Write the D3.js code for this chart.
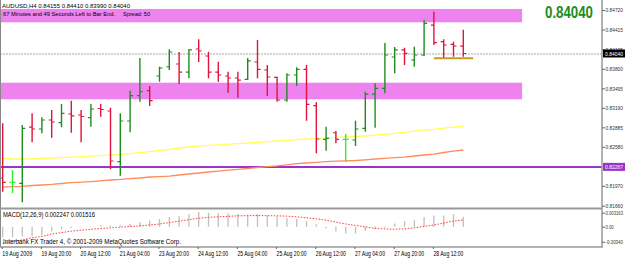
<!DOCTYPE html>
<html><head><meta charset="utf-8">
<script src="https://cdn.jsdelivr.net/npm/d3@7"></script>
<style>html,body{margin:0;padding:0;background:#fff;overflow:hidden}</style>
</head><body><svg id="c" width="625" height="258"></svg>
<script>
// ---- data (AUDUSD H4) ----
const opens  = [0.82093,0.82026,0.82010,0.82890,0.82859,0.83000,0.82958,0.83094,0.83078,0.83036,0.83180,0.83141,0.82348,0.82984,0.83380,0.83458,
                0.83688,0.83833,0.83876,0.83750,0.84110,0.84001,0.83750,0.83688,0.83657,0.83636,0.83907,0.83782,0.83668,0.83313,0.83704,0.83793,
                0.83224,0.82698,0.82801,0.82698,0.82687,0.82870,0.83406,0.83496,0.83985,0.84095,0.83938,0.84016,0.84485,0.84224,0.84184,0.84155];
const highs  = [0.82948,0.82218,0.82922,0.83105,0.83042,0.83156,0.83250,0.83302,0.83156,0.83250,0.83250,0.83192,0.83105,0.83458,0.83969,0.83532,
                0.83833,0.84105,0.84063,0.84105,0.84262,0.84068,0.83912,0.83755,0.83755,0.83969,0.84251,0.83860,0.83677,0.83730,0.83824,0.83860,
                0.83277,0.82895,0.82828,0.82781,0.82989,0.83442,0.83574,0.84204,0.84141,0.84130,0.84146,0.84564,0.84693,0.84262,0.84224,0.84410];
const lows   = [0.81879,0.81854,0.81713,0.82651,0.82792,0.82723,0.82886,0.82801,0.82651,0.82895,0.83052,0.82229,0.82129,0.82808,0.83286,0.83219,
                0.83599,0.83782,0.83563,0.83652,0.83907,0.83652,0.83599,0.83427,0.83349,0.83625,0.83652,0.83375,0.83286,0.83286,0.83532,0.82989,
                0.82479,0.82520,0.82636,0.82348,0.82593,0.82817,0.82880,0.83417,0.83730,0.83860,0.83833,0.84001,0.84173,0.83965,0.83990,0.83990];
const closes = [0.82026,0.82026,0.82870,0.82859,0.83000,0.82969,0.83105,0.83063,0.83055,0.83172,0.83164,0.82359,0.82984,0.83380,0.83442,0.83302,
                0.83813,0.84063,0.83750,0.84095,0.84079,0.83750,0.83704,0.83657,0.83625,0.83923,0.83793,0.83672,0.83313,0.83704,0.83793,0.83245,
                0.82703,0.82714,0.82698,0.82698,0.82859,0.83406,0.83496,0.84016,0.84095,0.84043,0.84016,0.84512,0.84209,0.84173,0.84157,0.84040];
const maYellow = [0.82398,0.82390,0.82390,0.82393,0.82398,0.82406,0.82412,0.82418,0.82426,0.82434,0.82442,0.82453,0.82464,0.82475,0.82489,0.82506,
                  0.82523,0.82542,0.82562,0.82578,0.82592,0.82604,0.82611,0.82622,0.82631,0.82640,0.82650,0.82661,0.82672,0.82683,0.82692,0.82703,
                  0.82709,0.82722,0.82729,0.82737,0.82744,0.82750,0.82762,0.82775,0.82792,0.82806,0.82826,0.82844,0.82855,0.82872,0.82889,0.82906];
const maOrange = [0.81949,0.81959,0.81963,0.81976,0.81984,0.81993,0.82007,0.82020,0.82030,0.82038,0.82049,0.82062,0.82071,0.82084,0.82093,0.82109,
                  0.82116,0.82124,0.82140,0.82156,0.82171,0.82187,0.82202,0.82215,0.82229,0.82242,0.82257,0.82270,0.82282,0.82299,0.82317,0.82328,
                  0.82337,0.82348,0.82356,0.82362,0.82367,0.82378,0.82390,0.82401,0.82412,0.82421,0.82437,0.82453,0.82468,0.82492,0.82512,0.82531];
const macdMain = [-0.00238,-0.00238,-0.00217,-0.00217,-0.00195,-0.00108,-0.00065,-0.00032,-0.00011,0.00011,0.00032,0.00028,0.00032,0.00065,0.00108,0.00141,
                  0.00173,0.00217,0.00238,0.00282,0.00336,0.00314,0.00303,0.00303,0.00288,0.00266,0.00288,0.00253,0.00232,0.00195,0.00180,0.00130,
                  0.00054,-0.00037,-0.00108,-0.00152,-0.00152,-0.00093,-0.00058,-0.00022,0.00071,0.00123,0.00158,0.00217,0.00253,0.00253,0.00288,0.002247];
const macdSignal = [-0.00383,-0.00340,-0.00297,-0.00253,-0.00221,-0.00167,-0.00134,-0.00102,-0.00080,-0.00058,-0.00043,-0.00026,-0.00011,0.00006,0.00017,0.00039,
                    0.00061,0.00093,0.00126,0.00158,0.00191,0.00212,0.00223,0.00234,0.00245,0.00249,0.00251,0.00249,0.00245,0.00238,0.00223,0.00201,
                    0.00180,0.00147,0.00104,0.00061,0.00028,-0.00004,-0.00037,-0.00052,-0.00058,-0.00048,-0.00026,0.00006,0.00039,0.00082,0.00126,0.001516];
const timeLabels = ["19 Aug 2009","19 Aug 20:00","20 Aug 12:00","21 Aug 04:00","23 Aug 20:00","24 Aug 12:00",
                    "25 Aug 04:00","25 Aug 20:00","26 Aug 12:00","27 Aug 04:00","27 Aug 20:00","28 Aug 12:00"];
const timeLabelBars = [0,4,8,12,16,20,24,28,32,36,40,44];
const priceTicks = [0.84720,0.84415,0.84105,0.83800,0.83495,0.83190,0.82885,0.82580,0.81970,0.81660];
const macdTicks = [0.003163,0.00,-0.00340];
const macdTickLabels = ["0.003163","0.00","-0.00340"];
const zoneUpper = [0.84528,0.84736];
const zoneLower = [0.83324,0.83583];
const zoneEndBar = 53;
const levelLine = 0.82267;
const goldLevel = 0.83965, goldFrom = 44, goldTo = 48;
const lastPrice = 0.84040;
const header = "AUDUSD,H4 0.84155 0.84410 0.83990 0.84040";
const timerText = "67 Minutes and 49 Seconds Left to Bar End.";
const spreadText = "Spread: 50";
const macdText = "MACD(12,26,9) 0.002247 0.001516";
const copyText = "Interbank FX Trader 4, \u00a9 2001-2009 MetaQuotes Software Corp.";

// ---- drawing ----
const svg = d3.select("#c");
const FONT = "Liberation Sans, Arial, sans-serif";
const axisX = 602, mainBottom = 207.5, macdTop = 209.5, macdBottom = 247;
const x = d3.scaleLinear().domain([0,47]).range([2.7,463.3]);
const y = d3.scaleLinear().domain([0.81660,0.84720]).range([205.7,10]);
const ym = d3.scaleLinear().domain([-0.0034,0.003163]).range([241.7,212.7]);
const idx = d3.range(opens.length);

svg.append("rect").attr("width",625).attr("height",258).attr("fill","#fff");
const defs = svg.append("defs");
defs.append("clipPath").attr("id","cm").append("rect").attr("x",1).attr("y",0).attr("width",axisX-1).attr("height",mainBottom);
defs.append("clipPath").attr("id","cd").append("rect").attr("x",1).attr("y",macdTop).attr("width",axisX-1).attr("height",macdBottom-macdTop);

const main = svg.append("g").attr("clip-path","url(#cm)");
[zoneUpper, zoneLower].forEach(z=>{
  main.append("rect").attr("x",0).attr("width",x(zoneEndBar)).attr("y",y(z[1])).attr("height",y(z[0])-y(z[1])).attr("fill","#ee82ee");
});
main.append("line").attr("x1",0).attr("x2",axisX).attr("y1",y(lastPrice)+0.5).attr("y2",y(lastPrice)+0.5)
  .attr("stroke","#a8a8a8").attr("stroke-width",1).attr("stroke-dasharray","2,1");
main.append("line").attr("x1",0).attr("x2",axisX).attr("y1",y(levelLine)).attr("y2",y(levelLine))
  .attr("stroke","#9933cc").attr("stroke-width",2);
const line = d3.line().x((d,i)=>x(i)).y(d=>y(d));
main.append("path").attr("d",line(maYellow)).attr("fill","none").attr("stroke","#ffff55").attr("stroke-width",1.3);
main.append("path").attr("d",line(maOrange)).attr("fill","none").attr("stroke","#ff8c5a").attr("stroke-width",1.3);
const col = i => closes[i]>opens[i] ? "#1e8c1e" : (closes[i]<opens[i] ? "#e0143c" : "#33ee33");
const bars = main.selectAll("g.bar").data(idx).enter().append("g");
bars.append("line").attr("x1",i=>x(i)).attr("x2",i=>x(i)).attr("y1",i=>y(highs[i])).attr("y2",i=>y(lows[i]))
  .attr("stroke",col).attr("stroke-width",1.4);
bars.append("line").attr("x1",i=>x(i)-3).attr("x2",i=>x(i)).attr("y1",i=>y(opens[i])).attr("y2",i=>y(opens[i]))
  .attr("stroke",col).attr("stroke-width",1.2);
bars.append("line").attr("x1",i=>x(i)).attr("x2",i=>x(i)+3).attr("y1",i=>y(closes[i])).attr("y2",i=>y(closes[i]))
  .attr("stroke",col).attr("stroke-width",1.2);
main.append("line").attr("x1",x(goldFrom)).attr("x2",x(goldTo)).attr("y1",y(goldLevel)).attr("y2",y(goldLevel))
  .attr("stroke","#cc9a22").attr("stroke-width",2);
main.append("text").attr("x",2).attr("y",7.5).attr("font-family",FONT).attr("font-size",6).attr("fill","#000")
  .attr("textLength",128).attr("lengthAdjust","spacingAndGlyphs").text(header);
main.append("text").attr("x",3).attr("y",16.2).attr("font-family",FONT).attr("font-size",6).attr("fill","#000")
  .attr("textLength",112).attr("lengthAdjust","spacingAndGlyphs").text(timerText);
main.append("text").attr("x",123).attr("y",16.2).attr("font-family",FONT).attr("font-size",6).attr("fill","#000")
  .attr("textLength",27).attr("lengthAdjust","spacingAndGlyphs").text(spreadText);
svg.append("text").attr("x",545).attr("y",17.5).attr("font-family",FONT).attr("font-weight","bold").attr("font-size",17)
  .attr("fill","#1e8c1e").attr("textLength",48).attr("lengthAdjust","spacingAndGlyphs").text(d3.format(".5f")(lastPrice));

const md = svg.append("g").attr("clip-path","url(#cd)");
md.selectAll("line.h").data(idx).enter().append("line")
  .attr("x1",i=>x(i)).attr("x2",i=>x(i)).attr("y1",ym(0)).attr("y2",i=>ym(macdMain[i]))
  .attr("stroke","#c0c0c0").attr("stroke-width",1.3);
md.append("path").attr("d",d3.line().x((d,i)=>x(i)).y(d=>ym(d))(macdSignal)).attr("fill","none")
  .attr("stroke","#ff3b3b").attr("stroke-width",1).attr("stroke-dasharray","1.5,1.5");
svg.append("text").attr("x",3).attr("y",217).attr("font-family",FONT).attr("font-size",6.3).attr("fill","#000")
  .attr("textLength",92).attr("lengthAdjust","spacingAndGlyphs").text(macdText);
svg.append("text").attr("x",3).attr("y",244).attr("font-family",FONT).attr("font-size",6.3).attr("fill","#000")
  .attr("textLength",178).attr("lengthAdjust","spacingAndGlyphs").text(copyText);

svg.append("line").attr("x1",0.5).attr("x2",0.5).attr("y1",0).attr("y2",macdBottom).attr("stroke","#888").attr("stroke-width",1);
svg.append("line").attr("x1",0).attr("x2",axisX).attr("y1",208.5).attr("y2",208.5).attr("stroke","#999").attr("stroke-width",2);
svg.append("line").attr("x1",0).attr("x2",axisX+1).attr("y1",macdBottom).attr("y2",macdBottom).attr("stroke","#999").attr("stroke-width",1.5);
svg.append("line").attr("x1",axisX).attr("x2",axisX).attr("y1",0).attr("y2",macdBottom).attr("stroke","#999").attr("stroke-width",1.5);

const pa = svg.append("g").attr("transform",`translate(${axisX},0)`)
  .call(d3.axisRight(y).tickValues(priceTicks).tickSize(3).tickPadding(0.5).tickFormat(d3.format(".5f")));
pa.select(".domain").remove();
pa.selectAll("line").attr("stroke","#666");
pa.selectAll("text").attr("font-family",FONT).attr("font-size",6).attr("fill","#333")
  .attr("textLength",17.5).attr("lengthAdjust","spacingAndGlyphs");
const ma = svg.append("g").attr("transform",`translate(${axisX},0)`)
  .call(d3.axisRight(ym).tickValues(macdTicks).tickSize(3).tickPadding(0.5).tickFormat((d,i)=>macdTickLabels[i]));
ma.select(".domain").remove();
ma.selectAll("line").attr("stroke","#666");
ma.selectAll("text").attr("font-family",FONT).attr("font-size",6).attr("fill","#333")
  .attr("textLength",(d,i)=>[17.5,8,17.5][i]).attr("lengthAdjust","spacingAndGlyphs");
function tag(v, bg){
  const g = svg.append("g");
  g.append("rect").attr("x",axisX+1).attr("y",y(v)-4).attr("width",22).attr("height",8).attr("fill",bg);
  g.append("text").attr("x",axisX+3).attr("y",y(v)+2.2).attr("font-family",FONT).attr("font-size",6).attr("fill","#fff")
    .attr("textLength",18).attr("lengthAdjust","spacingAndGlyphs").text(d3.format(".5f")(v));
}
tag(lastPrice,"#000");
tag(levelLine,"#9933cc");

const ta = svg.append("g").attr("transform",`translate(0,${macdBottom})`)
  .call(d3.axisBottom(x).tickValues(timeLabelBars).tickSize(2).tickFormat((d,i)=>timeLabels[i]));
ta.select(".domain").remove();
ta.selectAll("line").attr("stroke","#666").attr("transform","translate(-1,0)");
ta.selectAll("text").attr("font-family",FONT).attr("font-size",6.3).attr("fill","#000")
  .attr("text-anchor","start").attr("dx",-1).attr("dy","0.35em").attr("y",6.5)
  .attr("textLength",30).attr("lengthAdjust","spacingAndGlyphs");
</script></body></html>
